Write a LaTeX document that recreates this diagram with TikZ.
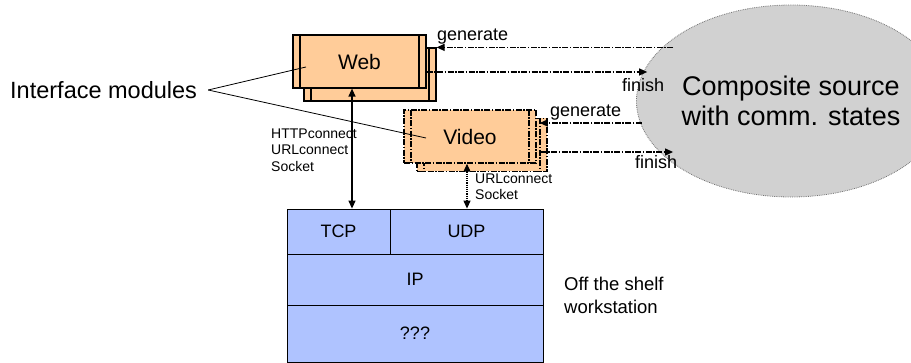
\documentclass[tikz,border=0pt]{standalone}
\usepackage{fontspec}
\setmainfont{Liberation Sans}
\usetikzlibrary{arrows.meta,shapes.geometric}
\definecolor{modfill}{RGB}{255,204,153}
\definecolor{stackfill}{RGB}{175,195,255}
\definecolor{srcfill}{RGB}{209,209,209}
\begin{document}
\begin{tikzpicture}[x=1pt,y=-1pt,>={Triangle[length=8pt,width=7pt]},
  modline/.style={line width=1.2pt},
  dashdot/.style={dash pattern=on 6pt off 1.5pt on 1.5pt off 1.5pt},
  modbox/.style={draw,fill=modfill,line width=1.2pt,minimum width=133pt,minimum height=53pt,inner sep=0pt,
    font=\fontsize{21}{25}\selectfont,
    path picture={\draw[modline] ([xshift=7pt]path picture bounding box.north west) -- ([xshift=7pt]path picture bounding box.south west);
      \draw[modline] ([xshift=-7pt]path picture bounding box.north east) -- ([xshift=-7pt]path picture bounding box.south east);}},
  vidbox/.style={modbox,dashdot,line width=1.5pt,modline/.style={line width=1.5pt,dashdot}},
  layer/.style={draw,fill=stackfill,line width=0.8pt,inner sep=0pt,font=\fontsize{18}{22}\selectfont},
  flow/.style={line width=1.2pt,dashdot,->},
  lbl/.style={inner sep=0pt,font=\fontsize{18}{22}\selectfont},
  small/.style={inner sep=0pt,align=left,font=\fontsize{14}{16.5}\selectfont}]
\useasboundingbox (0,0) rectangle (911,363);
\node[ellipse,draw=black!55,densely dotted,line width=0.8pt,fill=srcfill,minimum width=242pt,minimum height=192pt,
  inner sep=0pt,align=center,font=\fontsize{27}{30}\selectfont] (src) at (791,101) {Composite source\\with comm. states};
\node[modbox,minimum width=132pt] (webback) at (370,74.5) {};
\node[modbox] (web) at (359.5,61.5) {Web};
\node[vidbox,minimum width=130pt] (vidback) at (482,145) {};
\node[vidbox,minimum width=132pt] (video) at (470,136.5) {Video};
\node[layer,minimum width=103pt,minimum height=45pt] (tcp) at (338.5,231.5) {TCP};
\node[layer,minimum width=153pt,minimum height=45pt] (udp) at (466.5,231.5) {UDP};
\node[layer,minimum width=256pt,minimum height=51pt] (ip) at (415,279.5) {IP};
\node[layer,minimum width=256pt,minimum height=57pt] (unk) at (415,333.5) {???};
\draw[flow] (webback.north east -| src.152) -- (webback.north east);
\draw[flow] ([yshift=-10.5pt]web.east) -- ([yshift=-10.5pt]web.east -| src.166);
\draw[flow] ([yshift=13.5pt]video.east -| src.190) -- ([xshift=3pt,yshift=13.5pt]video.east);
\draw[flow] ([xshift=4pt,yshift=-15.5pt]video.east) -- ([xshift=4pt,yshift=-15.5pt]video.east -| src.206);
\draw[<->,line width=1.2pt] ([xshift=-7.5pt]web.south) -- ([xshift=-7.5pt]web.south |- tcp.north);
\draw[<->,line width=1.2pt,densely dotted] ([xshift=-3pt]video.south) -- ([xshift=-3pt]video.south |- udp.north);
\node[lbl,anchor=west] (gen1) at (437,37) {generate};
\node[lbl,anchor=west] (fin1) at (622,85) {finish};
\node[lbl,anchor=west] (gen2) at (550,113) {generate};
\node[lbl,anchor=west] (fin2) at (635,162) {finish};
\node[small,anchor=west] (proto1) at (271,150) {HTTPconnect\\URLconnect\\Socket};
\node[small,anchor=west] (proto2) at (475,187) {URLconnect\\Socket};
\node[lbl,anchor=west,align=left,font=\fontsize{18.5}{23}\selectfont] (wks) at (564,295) {Off the shelf\\workstation};
\node[inner sep=0pt,anchor=west,font=\fontsize{23.5}{28}\selectfont] (ifm) at (10,90) {Interface modules};
\draw[line width=0.8pt] ([xshift=11pt]ifm.east) -- ([xshift=-53.5pt,yshift=-5.5pt]web.center);
\draw[line width=0.8pt] ([xshift=11pt]ifm.east) -- ([xshift=-44pt,yshift=-1.5pt]video.center);
\end{tikzpicture}
\end{document}
